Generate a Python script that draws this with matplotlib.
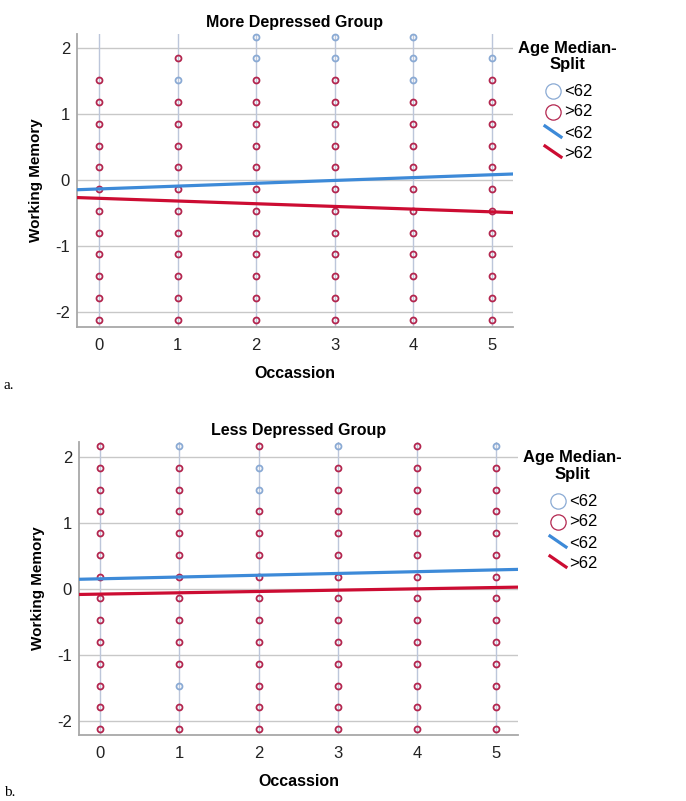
#!/usr/bin/env python
"""Working memory by occasion, split by age median"""

import matplotlib
matplotlib.use('Agg')
import matplotlib.pyplot as plt
from matplotlib.lines import Line2D
import numpy as np

plt.rcParams['font.family'] = ['Liberation Sans', 'DejaVu Sans']

# score levels (rows, top to bottom) and occasions (columns)
levels = [2.17, 1.84, 1.51, 1.18, 0.85, 0.52, 0.19, -0.14,
          -0.47, -0.80, -1.13, -1.46, -1.79, -2.12]
occasions = [0, 1, 2, 3, 4, 5]

# 0 = no case, 1 = <62 (only young visible), 2 = >62 visible
more_grid = [
    [0, 0, 1, 1, 1, 0],
    [0, 2, 1, 1, 1, 1],
    [2, 1, 2, 2, 1, 2],
] + [[2, 2, 2, 2, 2, 2]] * 11

less_grid = [
    [2, 1, 2, 1, 2, 1],
    [2, 2, 1, 2, 2, 2],
    [2, 2, 1, 2, 2, 2],
] + [[2, 2, 2, 2, 2, 2]] * 8 + [
    [2, 1, 2, 2, 2, 2],
    [2, 2, 2, 2, 2, 2],
    [2, 2, 2, 2, 2, 2],
]

# fit lines: (intercept, slope)
more_fit_young = (-0.138, 0.043)
more_fit_old = (-0.28, -0.041)
less_fit_young = (0.157, 0.027)
less_fit_old = (-0.075, 0.020)

titles = ['More Depressed Group', 'Less Depressed Group']
age_labels = ['<62', '>62']

BLUE_PT = '#8aaad4'
RED_PT = '#b3264f'
BLUE_LN = '#3d8ad8'
RED_LN = '#cc0c32'
GRID = '#c8c8c8'
VGRID = '#bcc6da'

W, H = 686, 801


def px(x, y):
    return x / W, 1 - y / H


def draw_panel(ax, grid, fit_young, fit_old, title, xlim, ylim):
    g = np.array(grid)
    lv = np.array(levels)
    for code, col in [(1, BLUE_PT), (2, RED_PT)]:
        r, c = np.nonzero(g == code)
        ax.plot(np.array(occasions)[c], lv[r], 'o', ms=4.3, mfc='none',
                mec=col, mew=1.3, zorder=3, clip_on=False)
    ax.axline((0, fit_young[0]), slope=fit_young[1], color=BLUE_LN, lw=2.3, zorder=4)
    ax.axline((0, fit_old[0]), slope=fit_old[1], color=RED_LN, lw=2.3, zorder=4)

    ax.set_xlim(*xlim)
    ax.set_ylim(*ylim)
    ax.set_xticks(occasions)
    ax.set_yticks([-2, -1, 0, 1, 2])
    ax.set_yticklabels(['-2', '-1', '0', '1', '2'])
    for y in [-2, -1, 0, 1, 2]:
        ax.axhline(y, color=GRID, lw=1, zorder=1)
    for x in occasions:
        ax.axvline(x, color=VGRID, lw=1, zorder=1)
    for s in ['top', 'right']:
        ax.spines[s].set_visible(False)
    for s in ['left', 'bottom']:
        ax.spines[s].set_color('#a8a8a8')
        ax.spines[s].set_linewidth(1.3)
    ax.tick_params(length=0, labelsize=12, colors='#222222')
    ax.tick_params(axis='x', pad=8)
    ax.tick_params(axis='y', pad=5)
    ax.set_title(title, fontsize=11.5, fontweight='bold', pad=5)
    ax.set_xlabel('Occassion', fontsize=11.5, fontweight='bold', labelpad=9)
    ax.set_ylabel('Working Memory', fontsize=11, fontweight='bold', labelpad=9)


def draw_legend(fig, cx, ty):
    # cx: centre of legend title, ty: y of first title line (pixels)
    fig.text(*px(cx, ty), 'Age Median-', ha='center', va='center',
             fontsize=12, fontweight='bold')
    fig.text(*px(cx, ty + 17), 'Split', ha='center', va='center',
             fontsize=12, fontweight='bold')
    mx = cx - 14
    tx = cx - 3
    ys = [ty + 43, ty + 64, ty + 85, ty + 105]
    for y, col in zip(ys[:2], [BLUE_PT, RED_PT]):
        fig.add_artist(Line2D([px(mx, y)[0]], [px(mx, y)[1]], marker='o', ms=11,
                              mfc='none', mec=col, mew=0.9, ls='none'))
    for y, col in zip(ys[2:], [BLUE_LN, RED_LN]):
        x0, y0 = px(mx - 8, y - 7)
        x1, y1 = px(mx + 8, y + 4)
        fig.add_artist(Line2D([x0, x1], [y0, y1], color=col, lw=2.3))
    for y, lab in zip(ys, age_labels * 2):
        fig.text(*px(tx, y), lab, ha='left', va='center', fontsize=12)


fig = plt.figure(figsize=(6.86, 8.01), dpi=100)

ax1 = fig.add_axes([77 / W, 1 - 327 / H, (513 - 77) / W, (327 - 34) / H])
draw_panel(ax1, more_grid, more_fit_young, more_fit_old, titles[0],
           (-0.28, 5.27), (-2.23, 2.21))
draw_legend(fig, 567, 48)

ax2 = fig.add_axes([79 / W, 1 - 735 / H, (518 - 79) / W, (735 - 442) / H])
draw_panel(ax2, less_grid, less_fit_young, less_fit_old, titles[1],
           (-0.27, 5.28), (-2.21, 2.23))
draw_legend(fig, 572, 458)

fig.text(*px(4, 385), 'a.', family=['Liberation Serif'], fontsize=11, va='center')
fig.text(*px(4, 793), 'b.', family=['Liberation Serif'], fontsize=11, va='center')

fig.savefig('out.png', dpi=100)
